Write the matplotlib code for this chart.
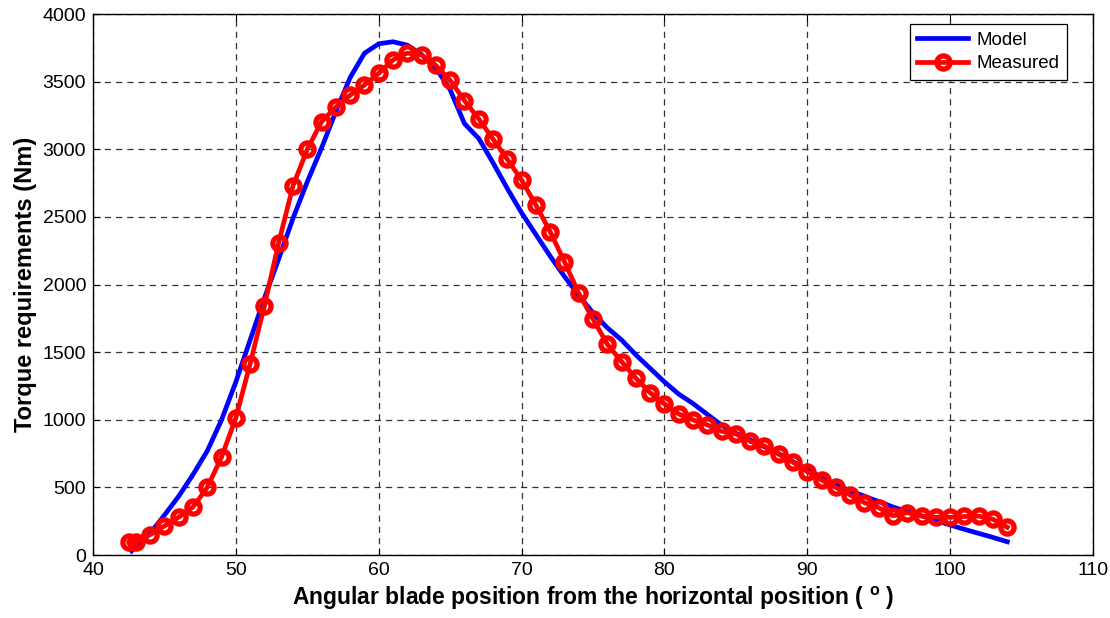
import numpy as np
import matplotlib
matplotlib.use("Agg")
import matplotlib.pyplot as plt

plt.rcParams['font.family'] = ['Liberation Sans', 'DejaVu Sans']
plt.rcParams['mathtext.fontset'] = 'custom'
plt.rcParams['mathtext.rm'] = 'Liberation Sans'
plt.rcParams['mathtext.bf'] = 'Liberation Sans:bold'

# model curve
model_x = [42.7, 43, 44, 45, 46, 47, 48, 49, 50, 51, 52, 53, 54, 55, 56, 57, 58, 59,
           60, 61, 62, 63, 64, 65, 66, 67, 68, 69, 70, 71, 72, 73, 74, 75, 76, 77,
           78, 79, 80, 81, 82, 83, 84, 85, 86, 87, 88, 89, 90, 91, 92, 93, 94, 95,
           96, 97, 98, 99, 100, 101, 102, 103, 104]
model_y = [30, 60, 160, 295, 435, 595, 770, 1000, 1280, 1590, 1900, 2190, 2490, 2760,
           3010, 3280, 3530, 3710, 3780, 3795, 3770, 3700, 3600, 3440, 3190, 3080,
           2900, 2710, 2530, 2370, 2210, 2060, 1920, 1790, 1680, 1590, 1480, 1380,
           1280, 1190, 1120, 1040, 960, 900, 850, 800, 750, 690, 630, 575, 520, 475,
           435, 395, 355, 320, 290, 255, 222, 190, 160, 130, 98]

# measured points
meas_x = [42.5, 43.0] + list(range(44, 105))
meas_y = [95, 95, 150, 215, 280, 355, 500, 725, 1015, 1415, 1843, 2310, 2730, 3000,
          3205, 3312, 3400, 3475, 3562, 3661, 3711, 3698, 3620, 3510, 3360, 3225,
          3075, 2926, 2773, 2588, 2391, 2169, 1935, 1745, 1558, 1430, 1307, 1200,
          1117, 1043, 999, 962, 915, 895, 840, 806, 745, 686, 616, 555, 500, 444,
          387, 350, 290, 313, 288, 279, 279, 285, 288, 264, 205]

fig = plt.figure(figsize=(11.1, 6.18), dpi=100)
ax = fig.add_axes([0.0838, 0.1019, 0.9009, 0.8754])

ax.plot(model_x, model_y, color='#0000ff', lw=3.4, label='Model', zorder=3)
ax.plot(meas_x, meas_y, color='#ff0000', lw=3.4, marker='o', ms=9.5,
        mfc='none', mew=3.8, label='Measured', zorder=4)

ax.set_xlim(40, 110)
ax.set_ylim(0, 4000)
ax.set_xticks(np.arange(40, 111, 10))
ax.set_yticks(np.arange(0, 4001, 500))
ax.tick_params(direction='in', top=True, right=True, labelsize=14, length=5,
               width=0.8, pad=5)
ax.grid(True, color='#333333', linestyle=(0, (5, 4)), linewidth=0.9)
for s in ax.spines.values():
    s.set_linewidth(1.0)

ax.set_xlabel(r'Angular blade position from the horizontal position ( $^{\mathbf{o}}$ )',
              fontsize=16.5, fontweight='bold', labelpad=4)
ax.set_ylabel('Torque requirements (Nm)', fontsize=17, fontweight='bold', labelpad=4)

leg = ax.legend(loc='upper right', bbox_to_anchor=(0.974, 0.9815), borderaxespad=0,
                fontsize=13.5, fancybox=False, framealpha=1, edgecolor='black',
                numpoints=1, handlelength=2.7, handletextpad=0.45,
                borderpad=0.4, labelspacing=0.35)
leg.get_frame().set_linewidth(0.9)

fig.savefig('out.png', dpi=100)
